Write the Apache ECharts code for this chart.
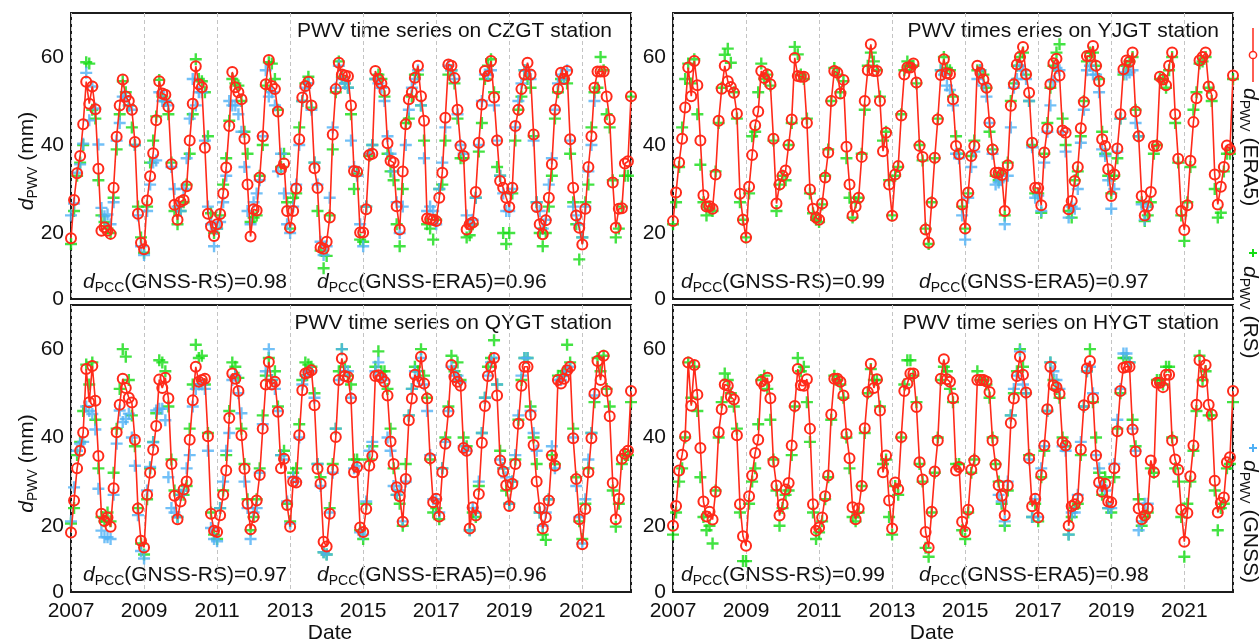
<!DOCTYPE html>
<html>
<head>
<meta charset="utf-8">
<script src="https://cdn.jsdelivr.net/npm/echarts@6/dist/echarts.min.js"></script>
<style>
    html, body { margin: 0; padding: 0; background: #fff; }
    #chart { width: 1260px; height: 643px; }
</style>
</head>
<body>
<div id="chart"></div>
<script>
// x values are months counted from 2007-01
const firstYear = 2007;
const lastMonth = 184;
const yearStep = 24;

const stations = ['CZGT', 'YJGT', 'QYGT', 'HYGT'];
const panelTitles = [
    'PWV time series on CZGT station',
    'PWV times eries on YJGT station',
    'PWV time series on QYGT station',
    'PWV time series on HYGT station'
];
const pccRs = ['0.98', '0.99', '0.97', '0.99'];
const pccEra5 = ['0.96', '0.97', '0.96', '0.98'];
const yLabels = [20, 40, 60];

const czgtEra5 = [
    18.8, 27.5, 33.6, 37.5, 44.7, 54.4, 49.4, 53.3, 48.1, 34.6, 20.5, 21.3,
    20.5, 19.8, 30.3, 41.9, 49, 54.9, 51, 50, 48, 40.7, 24.4, 17.8,
    16.3, 27.4, 32.9, 38.1, 45.6, 54.5, 51.7, 51.4, 48.7, 35.6, 26.4, 23,
    27.1, 27.5, 30.6, 41, 49.4, 57.9, 53.8, 53.1, 39.4, 24.4, 21.5, 19.3,
    22, 24.3, 29, 34.9, 44.3, 56.6, 53.1, 52, 50.4, 41.4, 31, 19.2,
    25.4, 25.1, 32.6, 42, 53.8, 59.3, 53.4, 52.7, 47.6, 34.5, 35.8, 25,
    21.2, 25, 30.1, 41.3, 50.8, 53.4, 54.4, 49, 34.7, 30.2, 16.7, 16.4,
    18, 23.5, 42.4, 52.7, 58.7, 56, 55.8, 55.6, 49, 34.1, 33.9, 20.1,
    20.1, 25.4, 37.7, 38, 56.8, 55, 54, 52.3, 40.4, 36.4, 36, 26.1,
    20.8, 34, 44.7, 50.4, 52, 55.3, 58, 51.1, 45.5, 23.3, 23.1, 23,
    22.7, 28, 33.7, 46.2, 58.3, 58, 55.2, 48, 39.8, 37.5, 20.8, 22,
    22.4, 29.3, 40.5, 49.2, 56.8, 55.7, 59.1, 50.8, 41, 31.8, 30.3, 28,
    25.9, 30.3, 44.3, 48, 52.7, 56, 58.7, 56, 42.4, 25.9, 22, 19.7,
    22.9, 28, 35.6, 48, 52.7, 56.4, 55, 56.8, 41.3, 30.3, 24, 21.2,
    17.4, 25.5, 35, 42, 53, 56.7, 56.7, 56.7, 51, 45.8, 31.5, 21.2,
    25.5, 25.6, 35.8, 36.3, 51.1
];
const czgtRs = [
    17.5, 25, 33, 36, 40, 58.8, 58.5, 48, 46, 32, 24, 22.5,
    21, 20, 28, 39, 47, 54.5, 52, 49, 44, 40, 26, 19,
    15.5, 26, 36, 41, 46.5, 54.8, 51, 50, 47, 36, 25, 22,
    25, 27, 31, 38, 47, 59.5, 55, 54.5, 52, 42, 24.5, 20,
    21, 24, 31, 37, 45.5, 55, 54, 53.5, 50, 43, 38, 22.5,
    23.5, 24, 33, 40, 53.5, 58.8, 58.5, 55, 48, 35, 38, 27,
    21, 28, 29, 44, 50, 54, 55.5, 48.5, 36, 25, 16, 12,
    14.8, 24, 39, 52, 59, 55.5, 54, 53, 47, 30, 33.5, 18.5,
    18, 26, 37.5, 40, 55, 56, 55, 51, 38, 34, 32, 22,
    17, 30, 45, 46, 51, 56, 56, 49, 41, 22, 21, 18.5,
    23, 30, 31, 41, 56, 57, 54, 46, 37, 37, 19, 19.5,
    22, 28, 38.5, 45, 55, 58, 59.5, 52, 35, 33, 20, 17.5,
    20, 29, 41, 48, 51, 57, 55, 53, 42, 27, 20, 17,
    20, 26, 33, 46, 52, 55, 55, 54, 38, 27, 22, 14,
    19, 27, 31, 44, 52, 53, 60, 57, 47, 44, 32, 19,
    21, 26, 33, 33, 51
];
const czgtGnssStart = 0;
const czgtGnss = [
    24, 26.7, 33.7, 35.6, 40.3, 56.4, 45.6, 53.3, 48.3, 40.1, 25.7, 23.8,
    24.2, 22, 27, 41, 45, 51, 51, 49, 48, 40, 24, 17,
    15, 25, 31, 36, 36.5, 52, 50, 50, 49, 35, 30, 26,
    25, 30, 37, 46, 55, 49, 52, 52, 41, 26, 22, 17,
    21, 22.5, 27, 33, 50, 49, 49, 47, 43, 35, 25, 22,
    27, 29, 32, 42, 57, 51, 52, 49, 34, 38, 29, 22,
    20, 26, 31, 40, 50, 53, 54, 48, 36, 31, 18, 15,
    17, 28, 44, 53, 58, 55, 54, 53, 41, 35, 33, 22,
    17, 26, 38, 40, 55, 54, 53, 50, 42, 38, 34, 27,
    20, 26, 40, 48, 53, 55, 57, 49, 37, 25, 26, 25,
    22, 30, 36, 44, 58, 57, 55, 47, 40, 38, 24, 22,
    23, 28, 40, 50, 56, 56, 57, 49, 41, 33, 29, 25,
    25, 30, 44, 50, 54, 57, 57, 55, 41, 27, 25, 21,
    23, 31, 37, 48, 54, 56, 55, 57, 41, 26, 24, 22,
    19, 26, 34, 40, 50
];

const yjgtEra5 = [
    22.7, 29.2, 36, 41.4, 48.5, 57.6, 51.1, 59.1, 53.6, 41, 28.6, 26,
    26.1, 25.5, 33.3, 45.5, 52.8, 58, 54.5, 53.2, 51.9, 47.1, 28.9, 23,
    19, 30.5, 37.7, 44.5, 47.6, 56.8, 55.2, 56, 53.8, 41.4, 26.7, 31,
    33, 34.2, 40, 45.8, 59.8, 55.7, 55.5, 55.5, 45, 29.9, 25.5, 23.5,
    23, 26.7, 32.6, 38.3, 50, 56.8, 56.4, 51.7, 54.8, 39.6, 31, 23.9,
    26, 28, 37.3, 50, 57, 62.9, 56.8, 56.8, 50, 38.6, 42.8, 31,
    23.9, 33.3, 35.2, 46.7, 56, 57.6, 57.6, 58.5, 54.2, 39.8, 37.3, 20.8,
    17.8, 26.9, 37.1, 45.8, 55.9, 59.5, 56.3, 56.1, 50.4, 39.8, 37.9, 26.5,
    21, 29.2, 37.5, 39.8, 58, 56.4, 54.9, 53, 45.1, 39, 33.7, 33.7,
    33.2, 25, 35.4, 48.9, 53.8, 58.3, 60, 62.3, 56.1, 51.9, 40.5, 30.3,
    30.2, 26.3, 38.3, 43.7, 53.8, 58.6, 59.6, 55.8, 43.3, 42.8, 25.4, 27.3,
    31.8, 35, 43.8, 49.8, 60.2, 60.2, 62.5, 58, 54.5, 41.3, 39.8, 34.5,
    28.4, 33.3, 39.2, 47, 57.2, 59.2, 58.9, 61, 47.6, 42, 28.4, 24,
    26.1, 29.3, 39.8, 39.8, 55.5, 54.9, 53.6, 58, 61, 47, 36.9, 25,
    20.7, 26.3, 36.4, 45.2, 50.6, 59.2, 60, 61, 53.3, 51.4, 33.3, 26.5,
    30.5, 35, 39.9, 39, 55.8
];
const yjgtRs = [
    22, 27, 35, 44, 55, 58.5, 54, 59.5, 47, 35.5, 27, 24,
    25.5, 25, 34, 45, 53, 60.5, 61.9, 58.7, 52, 46, 27, 23,
    19, 29, 42, 43, 52, 58.5, 55, 56, 53.5, 41, 25, 31,
    33, 32, 40, 45, 62.3, 60.6, 56, 55, 46, 29, 24.5, 23,
    22.5, 26.5, 33, 39, 50, 57.5, 56, 52, 54.5, 37, 28, 23.5,
    27, 28, 38, 48, 58, 61, 59, 57, 51, 41, 43, 32,
    24, 33, 35, 47, 57, 59, 58, 58, 54, 40, 36.5, 21,
    17.5, 27, 37, 46, 57, 60, 57.5, 57, 51, 42, 38, 26,
    21, 29, 37.5, 41, 57, 57, 56, 53, 43, 39, 33, 32,
    33.5, 24, 36, 50, 54, 58, 60, 61, 56, 50, 40, 29,
    29, 24.6, 38, 45, 53, 58, 61, 62.9, 46, 40, 25, 23.5,
    32, 34, 42, 50, 59, 61, 61, 58, 55, 43, 38, 33,
    29, 33, 37, 46, 56, 58, 59, 60, 48, 42, 27, 22.7,
    24, 27, 38, 40, 55, 55, 53, 57, 60, 45, 36, 24,
    18.2, 27, 35, 48, 52, 58.5, 59, 60, 53, 50, 30, 23.5,
    24.6, 34, 38, 38, 55
];
const yjgtGnssStart = 88;
const yjgtGnss = [
    57, 56, 53.5, 52.5, 49, 38, 37, 24,
    18.5, 28, 35, 38.5, 55, 57, 53.5, 51, 45, 38, 31, 31.5,
    32, 22, 33, 44, 53, 55, 58, 57, 55, 50, 39.5, 28,
    28.5, 25, 36, 43, 49, 54.5, 57.5, 57, 43, 38.5, 23.5, 26,
    25.5, 30, 40.5, 48, 57, 58, 56, 56, 52, 39, 37.5, 32,
    25.5, 30, 38.5, 46, 56.5, 56, 56.5, 57, 45, 42, 26.5, 23,
    26
];

const qygtEra5 = [
    18.5, 25.7, 33, 37, 41.1, 55.5, 48, 56.2, 48.3, 35.8, 22.7, 21.1,
    21.9, 19.8, 28.5, 41.2, 47.4, 53.3, 51.2, 49, 47.9, 39.5, 23.9, 16.6,
    15.1, 27, 32, 37.2, 42.6, 53.1, 51.2, 53.5, 48.9, 34, 26.8, 21.5,
    25.5, 28.2, 30, 39.5, 48.4, 56, 52.6, 53, 53.3, 40.3, 22.7, 18.9,
    18.6, 22.4, 27, 32.5, 44.4, 54.5, 53.3, 50.5, 40.5, 32.9, 25, 19.2,
    22, 25.7, 31.5, 42, 52, 57.1, 52, 52.6, 45.8, 33, 35.2, 24.7,
    19.8, 30, 29.8, 40.5, 50.7, 54.5, 54.7, 55.2, 47.3, 32.9, 29.5, 16.4,
    15.3, 22.7, 32.7, 40.1, 53, 57.9, 53.9, 53.7, 48.8, 32.1, 33.3, 19.6,
    18.6, 23.8, 33.6, 35.8, 53.9, 54.1, 53.5, 52.6, 49.5, 39.1, 34, 28.7,
    26.7, 20.9, 30.6, 43.9, 48.8, 54.2, 52.6, 58.3, 52.2, 48.8, 35.3, 25.3,
    26.1, 22.1, 32.1, 38.6, 45.8, 56.4, 53.7, 52.6, 51.7, 37.6, 37, 19.4,
    24.2, 22.3, 27.2, 38.8, 47.1, 53.9, 56, 58, 49.5, 34.8, 32.3, 29.2,
    24.5, 29.5, 34, 43.1, 51.7, 56, 56, 45.1, 38.3, 30, 24, 19.4,
    21.9, 25.7, 35.9, 33.6, 53, 52.2, 53.3, 55.2, 56, 39.8, 30.6, 21.5,
    15.8, 23.8, 32.1, 39.8, 49.9, 57.3, 53, 58.5, 50.5, 44.8, 29.7, 21.5,
    26.1, 35.2, 36.3, 37, 50.5
];
const qygtRs = [
    20.5, 24, 36, 39, 46, 56.5, 52, 57, 44, 33, 22, 21,
    23, 21, 32, 42, 51, 60, 58.3, 53, 45, 38, 24, 16,
    13.5, 26, 33, 39, 45.5, 57.5, 57, 55, 47, 35, 28, 22,
    27, 27, 29, 42, 52, 61, 58, 58.5, 52, 41, 23, 18,
    17, 24, 28, 36, 46, 57, 56, 53.5, 42, 34, 26, 19,
    22, 26, 33, 45, 54, 58, 53, 55, 47, 36, 37, 25,
    21, 32, 33, 43, 53, 57, 56.5, 56, 50, 34, 31, 14,
    13.5, 24, 34, 42, 55, 60, 56, 54, 52, 35, 35, 19,
    17, 25, 35, 38, 56, 59.5, 55, 55, 51, 42, 33, 27,
    25, 20, 34, 45, 51, 56, 55, 60, 54, 49, 35, 23,
    24, 21.5, 33, 40, 47, 58.5, 55, 57, 53, 40, 38, 19,
    23, 22, 29, 41, 49, 56, 58, 62, 52, 37, 33, 28,
    25, 30, 35, 44, 53, 58, 58, 47, 40, 34, 23, 18,
    16.8, 26, 36, 34, 54, 54, 55, 61, 57, 42, 31, 21,
    17, 25, 33, 41, 48, 58, 55, 58.5, 51, 47, 28, 19.8,
    25, 34, 36, 36, 48
];
const qygtGnssStart = 0;
const qygtGnss = [
    21, 28.7, 37, 38.6, 39, 47, 46, 45.3, 41.8, 28.4, 18.9, 17.4,
    17.4, 17, 27, 38.6, 46.1, 43.5, 44.2, 45.4, 40, 33.6, 22.4, 14.3,
    12.6, 28, 33.3, 38.9, 46.1, 46.5, 46.5, 43.9, 31, 24, 23, 22,
    27, 28, 33, 36, 47, 51, 52, 52, 51, 37, 19.5, 17,
    16.5, 24, 30, 37, 41, 53, 54, 50, 45.5, 30, 24, 17,
    23, 24, 32, 43, 55, 60, 53, 51, 46, 36, 35, 25.5,
    20.5, 31, 30, 40, 52, 54, 55, 55, 49, 34, 29, 14,
    13.5, 23, 32, 42, 53, 60, 55, 55, 49, 33, 33.5, 18.5,
    18, 25.5, 37, 39, 55, 57, 54, 53, 40, 37, 29, 27,
    28, 21, 30, 45, 51, 55, 53.5, 58, 52, 46, 36, 26,
    26, 23, 33, 39, 46, 56, 54, 54, 52.5, 38, 37, 19,
    24, 23, 30, 41, 49, 54, 57, 58, 52, 35, 33, 31,
    25, 30, 36, 45, 54, 58, 58, 46, 41, 37, 23, 20,
    23, 26, 38, 33, 53, 53, 54, 55, 56, 40, 29, 22,
    16, 26, 35, 41, 49.5
];

const hygtEra5 = [
    20, 24.5, 32.5, 36.1, 40.3, 57, 47.2, 56.4, 49.7, 37.6, 25.5, 22.1,
    23.2, 21.4, 27.7, 41.2, 46.4, 52, 51.7, 49.2, 48.6, 40.5, 24.9, 17.6,
    15.5, 26.7, 31.4, 36.5, 39.5, 52.7, 51.7, 53.5, 48.9, 34.5, 29.1, 22.3,
    24.9, 28.2, 29.7, 38.2, 47.1, 55.5, 51.8, 51.7, 53.2, 42, 24.9, 18.9,
    19.6, 21.9, 26.7, 31.4, 45.2, 53.3, 53.3, 52.6, 49.5, 40.8, 35.3, 24.2,
    21.5, 23.9, 29, 42.1, 50.3, 56.7, 51.2, 53.2, 46.1, 32.1, 35.9, 25.7,
    19.4, 29.8, 28.3, 40.1, 50.5, 52.2, 54.5, 54.5, 46.9, 34.4, 30.5, 18.6,
    15.1, 23.2, 32.3, 39.3, 53.3, 57.7, 53.2, 52.6, 48.9, 32.5, 33.3, 20.9,
    18.6, 23.6, 32.7, 34.8, 53, 53, 53, 52.7, 50.3, 39.3, 33.8, 29.2,
    26.8, 22.4, 29.1, 43.3, 48.8, 53.9, 58.3, 54.2, 50.2, 35.3, 24.4, 26.1,
    21.9, 31.5, 38.2, 46.4, 56, 51.8, 51.4, 49.9, 38.9, 38.2, 20, 24.4,
    24.9, 26.2, 37.3, 47.3, 55.6, 57.3, 48.8, 35.9, 29.8, 27.7, 29.5, 25.5,
    25.3, 33, 41.4, 50.5, 55.8, 56, 56, 41.8, 36.8, 23.9, 21.5, 22.3,
    23.9, 34.8, 32.1, 52.4, 52.4, 51.4, 54.2, 54.2, 39.3, 35, 32.7, 23.6,
    16.4, 22.9, 31.2, 38.2, 47.4, 57.5, 52.6, 56.4, 47.4, 45.2, 30.2, 23,
    25.2, 26.4, 34.4, 35.5, 50.5
];
const hygtRs = [
    18, 23, 30, 33, 40, 57, 49, 56, 46, 31, 22, 19,
    20, 16, 28, 40, 48, 54.5, 53, 50, 47, 42, 23, 12,
    12, 25, 30, 33, 43, 53, 54, 51, 44, 35, 28, 20,
    24, 27, 28, 36, 47, 58, 55, 56, 48, 39, 23, 17,
    18.5, 21, 26, 31, 44, 54, 53, 52, 49, 40, 33, 22,
    21, 23, 29, 41, 50, 55.5, 53, 53, 47, 34, 35, 22,
    18, 29, 27, 40, 52, 57.5, 57.5, 54, 48, 34, 30, 15,
    13, 23, 32, 40, 53, 56, 55, 51, 48, 34, 34, 19,
    17, 23, 32, 35, 55, 53, 53, 52, 49, 40, 34, 30,
    25, 20, 28, 45, 50, 55, 60, 56, 50, 36, 22, 25,
    21, 31, 37, 46, 57, 53, 51, 49, 40, 38, 18, 22,
    24, 25, 36, 47, 55, 60, 48, 40, 32, 27, 31, 24,
    23, 31, 42, 50, 58, 58, 57, 44, 38, 26, 20, 22,
    23, 33, 32, 53, 53, 52, 56, 56, 40, 33, 30, 22,
    13, 25, 30, 37, 46, 58.5, 53, 55, 45, 45, 28, 19,
    24, 25, 33, 34, 48
];
const hygtGnssStart = 107;
const hygtGnss = [
    27,
    25.5, 21, 30, 45, 51, 54, 59.5, 52, 50, 35, 22, 26,
    22, 33, 38, 46, 57, 55, 53, 51, 38, 37, 18, 23,
    23, 27, 39, 47, 55, 56, 50, 36, 33, 29, 28, 24,
    24, 34, 44, 51, 59, 59, 57, 42, 37, 19, 21, 25,
    25
];

const era5Sets = [czgtEra5, yjgtEra5, qygtEra5, hygtEra5];
const rsSets = [czgtRs, yjgtRs, qygtRs, hygtRs];
const gnssSets = [czgtGnss, yjgtGnss, qygtGnss, hygtGnss];
const gnssStarts = [czgtGnssStart, yjgtGnssStart, qygtGnssStart, hygtGnssStart];

const FONT = "'Liberation Sans', Arial, sans-serif";
const RED = '#ff2a1a';
const GREEN = '#14dc14';
const BLUE = '#4fb0f5';
const PLUS = 'path://M4,0H6V4H10V6H6V10H4V6H0V4H4Z';

const panels = [
    { left: 71, top: 13, width: 560, height: 286 },
    { left: 673, top: 13, width: 560, height: 286 },
    { left: 71, top: 305, width: 560, height: 287 },
    { left: 673, top: 305, width: 560, height: 287 }
];

const richText = {
    i: { fontStyle: 'italic', fontSize: 21, fontFamily: FONT, lineHeight: 26 },
    s: { fontSize: 14, fontFamily: FONT, lineHeight: 14, verticalAlign: 'bottom' }
};

function toPoints(values, start) {
    return values.map((v, i) => [start + i, v]);
}

function label(x, y, text, extra) {
    return Object.assign({
        type: 'text',
        x: x,
        y: y,
        silent: true,
        style: {
            text: text,
            rich: richText,
            fontSize: 21,
            fontFamily: FONT,
            lineHeight: 26,
            fill: '#111',
            textAlign: 'left',
            textVerticalAlign: 'middle'
        }
    }, extra || {});
}

const chart = echarts.init(document.getElementById('chart'), null, { renderer: 'canvas' });

const grid = [];
const xAxis = [];
const yAxis = [];
const series = [];
const graphic = [];

panels.forEach((p, k) => {
    const bottomRow = k >= 2;
    const leftCol = k % 2 === 0;

    grid.push({
        left: p.left, top: p.top, width: p.width, height: p.height,
        show: true, borderColor: '#1c1c1c', borderWidth: 2, backgroundColor: 'transparent'
    });
    xAxis.push({
        type: 'value', gridIndex: k, min: 0, max: lastMonth, interval: yearStep,
        axisLine: { show: false },
        axisTick: { show: false },
        axisLabel: {
            show: bottomRow, margin: 9, fontSize: 21, fontFamily: FONT, color: '#111',
            formatter: v => (v % yearStep === 0 ? String(firstYear + v / 12) : '')
        },
        splitLine: { show: true, lineStyle: { color: '#c4c4c4', type: [4, 3], width: 1 } }
    });
    yAxis.push({
        type: 'value', gridIndex: k, min: 5, max: 70,
        axisLine: { show: false },
        axisTick: { show: false },
        axisLabel: {
            margin: 7, fontSize: 21, fontFamily: FONT, color: '#111',
            customValues: [5].concat(yLabels),
            formatter: v => (v === 5 ? '0' : String(v))
        },
        splitLine: { show: false }
    });

    series.push({
        name: stations[k] + ' RS', type: 'scatter', xAxisIndex: k, yAxisIndex: k,
        symbol: PLUS, symbolSize: 12, itemStyle: { color: GREEN }, z: 2,
        data: toPoints(rsSets[k], 0)
    });
    series.push({
        name: stations[k] + ' GNSS', type: 'scatter', xAxisIndex: k, yAxisIndex: k,
        symbol: PLUS, symbolSize: 12, itemStyle: { color: BLUE }, z: 3,
        data: toPoints(gnssSets[k], gnssStarts[k])
    });
    series.push({
        name: stations[k] + ' ERA5', type: 'line', xAxisIndex: k, yAxisIndex: k,
        symbol: 'circle', symbolSize: 10, showAllSymbol: true, z: 4,
        itemStyle: { color: 'rgba(255,255,255,0)', borderColor: RED, borderWidth: 2 },
        lineStyle: { color: RED, width: 1.6 },
        data: toPoints(era5Sets[k], 0)
    });

    // panel texts
    const right = p.left + p.width;
    const titleY = p.top + 18;
    const pccY = p.top + p.height - 17;
    graphic.push(label(right - (leftCol ? 19 : 14), titleY, panelTitles[k], {
        style: { text: panelTitles[k], fontSize: 21, fontFamily: FONT, fill: '#111', textAlign: 'right', textVerticalAlign: 'middle' }
    }));
    graphic.push(label(p.left + (leftCol ? 12 : 8), pccY, '{i|d}{s|PCC}(GNSS-RS)=' + pccRs[k]));
    graphic.push(label(p.left + 246, pccY, '{i|d}{s|PCC}(GNSS-ERA5)=' + pccEra5[k]));

    if (leftCol) {
        const yName = label(27, p.top + p.height / 2 + (bottomRow ? 15 : 5), '{i|d}{s|PWV} (mm)', { rotation: Math.PI / 2 });
        yName.style.textAlign = 'center';
        graphic.push(yName);
    }
    if (bottomRow) {
        const dateName = label(p.left + p.width / 2 - 21, 633, 'Date');
        dateName.style.textAlign = 'center';
        graphic.push(dateName);
    }
});

// legend, drawn vertically on the right edge
const legendX = 1253;
graphic.push({ type: 'line', silent: true, shape: { x1: legendX, y1: 28, x2: legendX, y2: 82 }, style: { stroke: RED, lineWidth: 1.5 } });
graphic.push({ type: 'circle', silent: true, shape: { cx: legendX, cy: 55, r: 3.6 }, style: { fill: '#fff', stroke: RED, lineWidth: 1.5 } });
graphic.push(label(legendX - 3, 88, '{i|d}{s|PWV} (ERA5)', { rotation: -Math.PI / 2 }));

[[GREEN, 253, 266, '{i|d}{s|PWV} (RS)'], [BLUE, 448, 460, '{i|d}{s|PWV} (GNSS)']].forEach(([color, py, ty, text]) => {
    graphic.push({ type: 'line', silent: true, shape: { x1: legendX - 4, y1: py, x2: legendX + 4, y2: py }, style: { stroke: color, lineWidth: 2 } });
    graphic.push({ type: 'line', silent: true, shape: { x1: legendX, y1: py - 4, x2: legendX, y2: py + 4 }, style: { stroke: color, lineWidth: 2 } });
    graphic.push(label(legendX - 3, ty, text, { rotation: -Math.PI / 2 }));
});

chart.setOption({
    animation: false,
    backgroundColor: '#fff',
    grid: grid,
    xAxis: xAxis,
    yAxis: yAxis,
    series: series,
    graphic: graphic
});
</script>
</body>
</html>
